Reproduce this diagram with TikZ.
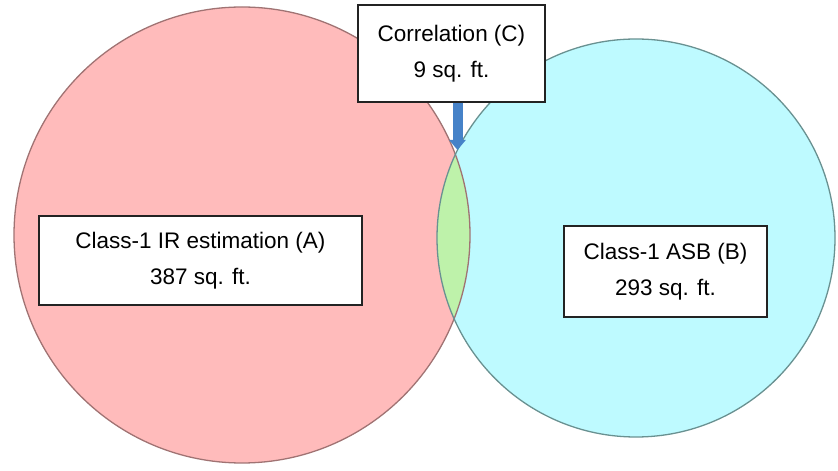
\documentclass[tikz,border=0pt]{standalone}
\usepackage{fontspec}
\setmainfont{Liberation Sans}
\usepackage{tikz}
\usetikzlibrary{arrows.meta,positioning,calc}
\definecolor{pinkfill}{RGB}{255,187,187}
\definecolor{pinkline}{RGB}{160,115,115}
\definecolor{cyanfill}{RGB}{190,250,255}
\definecolor{cyanline}{RGB}{105,145,145}
\definecolor{lensgreen}{RGB}{190,242,170}
\definecolor{arrowblue}{RGB}{70,130,200}
\definecolor{boxline}{RGB}{35,35,35}
\tikzset{
  setcircle/.style={circle,inner sep=0pt,line width=1.3pt},
  labelbox/.style={rectangle,draw=boxline,fill=white,line width=1.4pt,align=center,
    font=\fontsize{22.5}{36}\selectfont,inner sep=0pt},
  corrarr/.style={-{Triangle[width=16pt,length=10pt]},line width=10pt,color=arrowblue}
}

\begin{document}
\begin{tikzpicture}[x=1pt,y=1pt]
  \useasboundingbox (0,0) rectangle (838,471);
  % the two sets
  \node[setcircle,fill=pinkfill,minimum size=456pt] (setA) at (242,236) {};
  \node[setcircle,fill=cyanfill,minimum size=398pt] (setB) at (636,233) {};
  \begin{scope}
    \clip (setA.center) circle (228pt);
    \fill[lensgreen] (setB.center) circle (199pt);
  \end{scope}
  \draw[pinkline,line width=1.3pt] (setA.center) circle (228pt);
  \draw[cyanline,line width=1.3pt] (setB.center) circle (199pt);
  % labels
  \node[labelbox,minimum width=187pt,minimum height=97pt] (corr) at (451.5,417.5) {Correlation (C)\\9 sq. ft.};
  \node[labelbox,minimum width=323pt,minimum height=89pt] (boxA) at (200.5,210.5) {Class-1 IR estimation (A)\\387 sq. ft.};
  \node[labelbox,minimum width=203pt,minimum height=91pt] (boxB) at (665.5,199.5) {Class-1 ASB (B)\\293 sq. ft.};
  \coordinate (lenstop) at (457.5,321);
  \draw[corrarr] (corr.south -| lenstop) -- (lenstop);
\end{tikzpicture}
\end{document}
